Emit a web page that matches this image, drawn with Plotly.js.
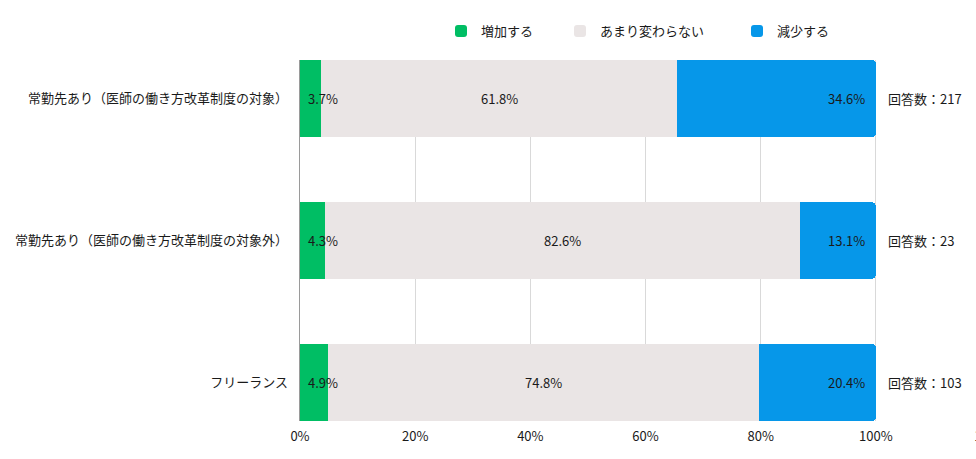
<!DOCTYPE html>
<html>
<head>
<meta charset="utf-8">
<script src="https://cdn.plot.ly/plotly-3.0.1.min.js"></script>
<style>
html,body{margin:0;padding:0;overflow:hidden;background:#fff;}
#chart{width:1010px;height:459px;}
</style>
</head>
<body>
<div id="chart"></div>
<script>
const categories = ['常勤先あり（医師の働き方改革制度の対象）', '常勤先あり（医師の働き方改革制度の対象外）', 'フリーランス'];
const seriesNames = ['増加する', 'あまり変わらない', '減少する'];
const increase = [3.7, 4.3, 4.9];
const noChange = [61.8, 82.6, 74.8];
const decrease = [34.6, 13.1, 20.4];
const respondents = [217, 23, 103];
const tickValues = [0, 20, 40, 60, 80, 100, 120];
const tickLabels = ['0%', '20%', '40%', '60%', '80%', '100%', '120%'];

const colors = ['#00BE64', '#EAE5E5', '#0697E9'];
const font = 'Noto Sans CJK JP, Noto Sans, sans-serif';
const series = [increase, noChange, decrease];
const legendIds = ['legend', 'legend2', 'legend3'];

const traces = series.map((vals, k) => ({
  type: 'bar',
  orientation: 'h',
  name: seriesNames[k],
  y: categories,
  x: vals,
  width: 0.547,
  marker: {color: colors[k], line: {width: 0}},
  legend: legendIds[k],
  hoverinfo: 'skip'
}));

const annotations = [];
categories.forEach((c, i) => {
  const g = increase[i], m = noChange[i], d = decrease[i];
  const base = {y: c, yref: 'y', xref: 'x', showarrow: false, font: {family: font, size: 13, color: '#1a1a1a'}, yanchor: 'middle'};
  annotations.push(Object.assign({}, base, {x: 0, xanchor: 'left', xshift: 6, text: g.toFixed(1) + '%'}));
  annotations.push(Object.assign({}, base, {x: g + m / 2, xanchor: 'center', text: m.toFixed(1) + '%'}));
  annotations.push(Object.assign({}, base, {x: g + m + d, xanchor: 'right', xshift: -9, text: d.toFixed(1) + '%'}));
  annotations.push(Object.assign({}, base, {x: 100, xanchor: 'left', xshift: 10, text: '回答数：' + respondents[i]}));
});

const legendBase = {orientation: 'h', xref: 'container', yref: 'container', yanchor: 'middle', xanchor: 'left',
  font: {family: font, size: 13, color: '#1a1a1a'}, bgcolor: 'rgba(0,0,0,0)', borderwidth: 0};
const layout = {
  width: 1010, height: 459,
  margin: {l: 300, r: 19, t: 60, b: 38},
  paper_bgcolor: '#fff', plot_bgcolor: '#fff',
  barmode: 'stack',
  barcornerradius: 5,
  showlegend: true,
  legend: Object.assign({}, legendBase, {x: 441 / 1010, y: 1 - 31 / 459}),
  legend2: Object.assign({}, legendBase, {x: 560 / 1010, y: 1 - 31 / 459}),
  legend3: Object.assign({}, legendBase, {x: 737 / 1010, y: 1 - 31 / 459}),
  xaxis: {
    range: [0, 120], tickmode: 'array', tickvals: tickValues, ticktext: tickLabels,
    showgrid: true, gridcolor: '#d9d9d9', gridwidth: 1, zeroline: false,
    showline: false, ticks: '', ticklabelstandoff: 6,
    tickfont: {family: font, size: 13, color: '#1a1a1a'}
  },
  yaxis: {
    type: 'category', range: [2.27, -0.27], showgrid: false, zeroline: false,
    showline: true, linecolor: '#9a9a9a', linewidth: 1.5, ticks: '',
    ticklabelstandoff: 8,
    tickfont: {family: font, size: 13, color: '#1a1a1a'}
  },
  annotations: annotations,
  font: {family: font, size: 13, color: '#1a1a1a'}
};

Plotly.newPlot('chart', traces, layout, {displayModeBar: false, staticPlot: true});
</script>
</body>
</html>
